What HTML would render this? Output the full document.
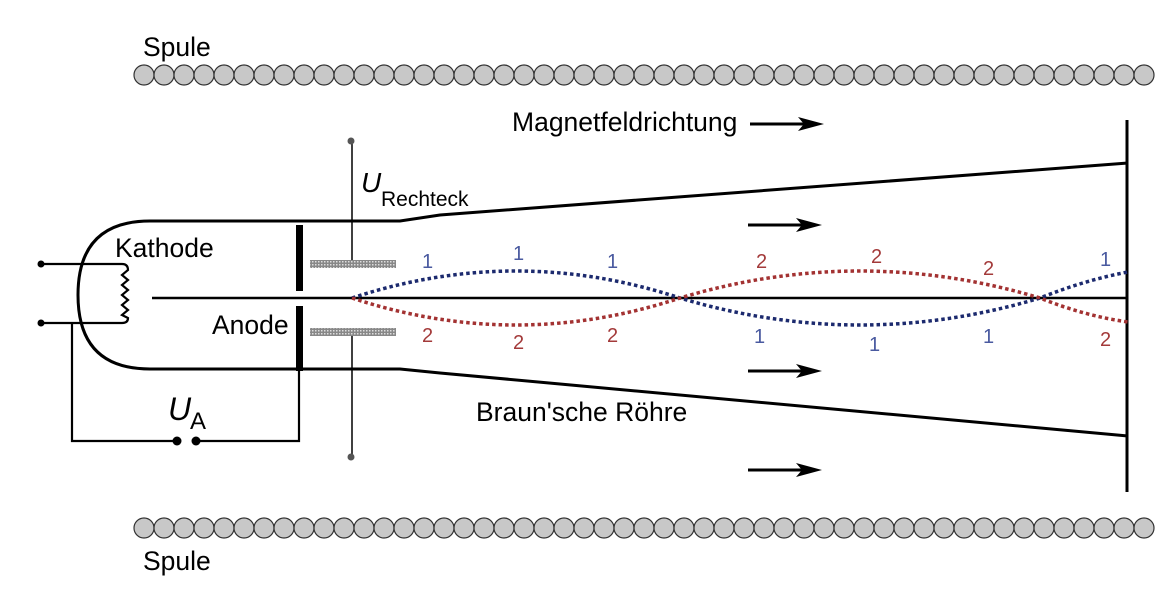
<!DOCTYPE html>
<html><head><meta charset="utf-8"><style>
body{margin:0;background:#fff;}
svg{display:block;font-family:"Liberation Sans",Arial,sans-serif;}
</style></head><body>
<svg width="1172" height="605" viewBox="0 0 1172 605" xmlns="http://www.w3.org/2000/svg">
<defs>
<pattern id="h" width="3" height="3" patternUnits="userSpaceOnUse"><rect width="3" height="3" fill="#888"/><rect width="1.5" height="1.5" fill="#ddd"/></pattern>
</defs>
<g fill="#c8c8c8" stroke="#333" stroke-width="1.2">
<circle cx="144" cy="75" r="10"/><circle cx="164" cy="75" r="10"/><circle cx="184" cy="75" r="10"/><circle cx="204" cy="75" r="10"/><circle cx="224" cy="75" r="10"/><circle cx="244" cy="75" r="10"/><circle cx="264" cy="75" r="10"/><circle cx="284" cy="75" r="10"/><circle cx="304" cy="75" r="10"/><circle cx="324" cy="75" r="10"/><circle cx="344" cy="75" r="10"/><circle cx="364" cy="75" r="10"/><circle cx="384" cy="75" r="10"/><circle cx="404" cy="75" r="10"/><circle cx="424" cy="75" r="10"/><circle cx="444" cy="75" r="10"/><circle cx="464" cy="75" r="10"/><circle cx="484" cy="75" r="10"/><circle cx="504" cy="75" r="10"/><circle cx="524" cy="75" r="10"/><circle cx="544" cy="75" r="10"/><circle cx="564" cy="75" r="10"/><circle cx="584" cy="75" r="10"/><circle cx="604" cy="75" r="10"/><circle cx="624" cy="75" r="10"/><circle cx="644" cy="75" r="10"/><circle cx="664" cy="75" r="10"/><circle cx="684" cy="75" r="10"/><circle cx="704" cy="75" r="10"/><circle cx="724" cy="75" r="10"/><circle cx="744" cy="75" r="10"/><circle cx="764" cy="75" r="10"/><circle cx="784" cy="75" r="10"/><circle cx="804" cy="75" r="10"/><circle cx="824" cy="75" r="10"/><circle cx="844" cy="75" r="10"/><circle cx="864" cy="75" r="10"/><circle cx="884" cy="75" r="10"/><circle cx="904" cy="75" r="10"/><circle cx="924" cy="75" r="10"/><circle cx="944" cy="75" r="10"/><circle cx="964" cy="75" r="10"/><circle cx="984" cy="75" r="10"/><circle cx="1004" cy="75" r="10"/><circle cx="1024" cy="75" r="10"/><circle cx="1044" cy="75" r="10"/><circle cx="1064" cy="75" r="10"/><circle cx="1084" cy="75" r="10"/><circle cx="1104" cy="75" r="10"/><circle cx="1124" cy="75" r="10"/><circle cx="1144" cy="75" r="10"/>
<circle cx="144" cy="528" r="10"/><circle cx="164" cy="528" r="10"/><circle cx="184" cy="528" r="10"/><circle cx="204" cy="528" r="10"/><circle cx="224" cy="528" r="10"/><circle cx="244" cy="528" r="10"/><circle cx="264" cy="528" r="10"/><circle cx="284" cy="528" r="10"/><circle cx="304" cy="528" r="10"/><circle cx="324" cy="528" r="10"/><circle cx="344" cy="528" r="10"/><circle cx="364" cy="528" r="10"/><circle cx="384" cy="528" r="10"/><circle cx="404" cy="528" r="10"/><circle cx="424" cy="528" r="10"/><circle cx="444" cy="528" r="10"/><circle cx="464" cy="528" r="10"/><circle cx="484" cy="528" r="10"/><circle cx="504" cy="528" r="10"/><circle cx="524" cy="528" r="10"/><circle cx="544" cy="528" r="10"/><circle cx="564" cy="528" r="10"/><circle cx="584" cy="528" r="10"/><circle cx="604" cy="528" r="10"/><circle cx="624" cy="528" r="10"/><circle cx="644" cy="528" r="10"/><circle cx="664" cy="528" r="10"/><circle cx="684" cy="528" r="10"/><circle cx="704" cy="528" r="10"/><circle cx="724" cy="528" r="10"/><circle cx="744" cy="528" r="10"/><circle cx="764" cy="528" r="10"/><circle cx="784" cy="528" r="10"/><circle cx="804" cy="528" r="10"/><circle cx="824" cy="528" r="10"/><circle cx="844" cy="528" r="10"/><circle cx="864" cy="528" r="10"/><circle cx="884" cy="528" r="10"/><circle cx="904" cy="528" r="10"/><circle cx="924" cy="528" r="10"/><circle cx="944" cy="528" r="10"/><circle cx="964" cy="528" r="10"/><circle cx="984" cy="528" r="10"/><circle cx="1004" cy="528" r="10"/><circle cx="1024" cy="528" r="10"/><circle cx="1044" cy="528" r="10"/><circle cx="1064" cy="528" r="10"/><circle cx="1084" cy="528" r="10"/><circle cx="1104" cy="528" r="10"/><circle cx="1124" cy="528" r="10"/><circle cx="1144" cy="528" r="10"/>
</g>
<g font-size="26.5" fill="#000">
<text x="143" y="56">Spule</text>
<text x="143" y="570">Spule</text>
<text x="512" y="131">Magnetfeldrichtung</text>
<text x="476" y="421">Braun'sche Röhre</text>
<text x="115" y="257">Kathode</text>
<text x="212" y="334">Anode</text>
<text x="361" y="192" font-size="28" font-style="italic">U</text>
<text x="381" y="206" font-size="21">Rechteck</text>
<text x="168" y="420" font-size="32" font-style="italic">U</text>
<text x="190" y="429" font-size="24">A</text>
</g>
<g stroke="#000" stroke-width="3">
<line x1="750" y1="124" x2="805" y2="124"/><line x1="748" y1="225" x2="803" y2="225"/><line x1="748" y1="371" x2="803" y2="371"/><line x1="748" y1="470" x2="803" y2="470"/>
</g>
<g fill="#000">
<path d="M798,117 L824,124 L798,131 L804,124Z"/><path d="M796,218 L822,225 L796,232 L802,225Z"/><path d="M796,364 L822,371 L796,378 L802,371Z"/><path d="M796,463 L822,470 L796,477 L802,470Z"/>
</g>
<g fill="none" stroke="#000" stroke-width="3">
<path d="M1128,163 L440,215 L400,221 L150,221 Q78,221 78,295 Q78,369 150,369 L400,369 L440,373 L1128,436"/>
<line x1="1127" y1="120" x2="1127" y2="492"/>
</g>
<line x1="152" y1="298" x2="1127" y2="298" stroke="#000" stroke-width="2.5"/>
<rect x="296" y="225" width="7" height="66" fill="#000"/>
<rect x="296" y="306" width="7" height="65" fill="#000"/>
<rect x="310" y="260" width="86" height="8" fill="url(#h)"/>
<rect x="310" y="328" width="86" height="8" fill="url(#h)"/>
<line x1="352" y1="140" x2="352" y2="260" stroke="#000" stroke-width="1.5"/>
<line x1="352" y1="336" x2="352" y2="457" stroke="#000" stroke-width="1.5"/>
<circle cx="351" cy="141" r="3.5" fill="#555"/><circle cx="351" cy="457" r="3.5" fill="#555"/>
<g fill="none" stroke="#000" stroke-width="2.2">
<path d="M40,264 L122,264 Q128,264 128,270 L122,275 L128,280 L122,285 L128,290 L122,295 L128,300 L122,305 L128,310 L122,315 L128,318 Q128,323 122,323 L40,323"/>
<path d="M72,323 L72,441 L176,441"/>
<path d="M196,441 L299,441 L299,369"/>
</g>
<g fill="#000"><circle cx="41" cy="264" r="3.5"/><circle cx="41" cy="323" r="3.5"/><circle cx="177" cy="441" r="4.5"/><circle cx="196" cy="441" r="4.5"/></g>
<g fill="none" stroke-width="3.5" stroke-dasharray="3.5 3">
<path d="M352,298 Q516,244 680,298 Q860,352 1040,298 Q1085,280 1128,272" stroke="#1c2a6e"/>
<path d="M352,298 Q516,352 680,298 Q860,244 1040,298 Q1085,316 1128,322" stroke="#a33232"/>
</g>
<g font-size="20" fill="#4a5aa0">
<text x="422" y="268">1</text><text x="513" y="260">1</text><text x="607" y="268">1</text>
<text x="754" y="343">1</text><text x="869" y="351">1</text><text x="983" y="343">1</text><text x="1100" y="266">1</text>
</g>
<g font-size="20" fill="#a33a3a">
<text x="422" y="342">2</text><text x="513" y="349">2</text><text x="607" y="342">2</text>
<text x="756" y="268">2</text><text x="871" y="263">2</text><text x="983" y="275">2</text><text x="1100" y="346">2</text>
</g>
</svg>
</body></html>
